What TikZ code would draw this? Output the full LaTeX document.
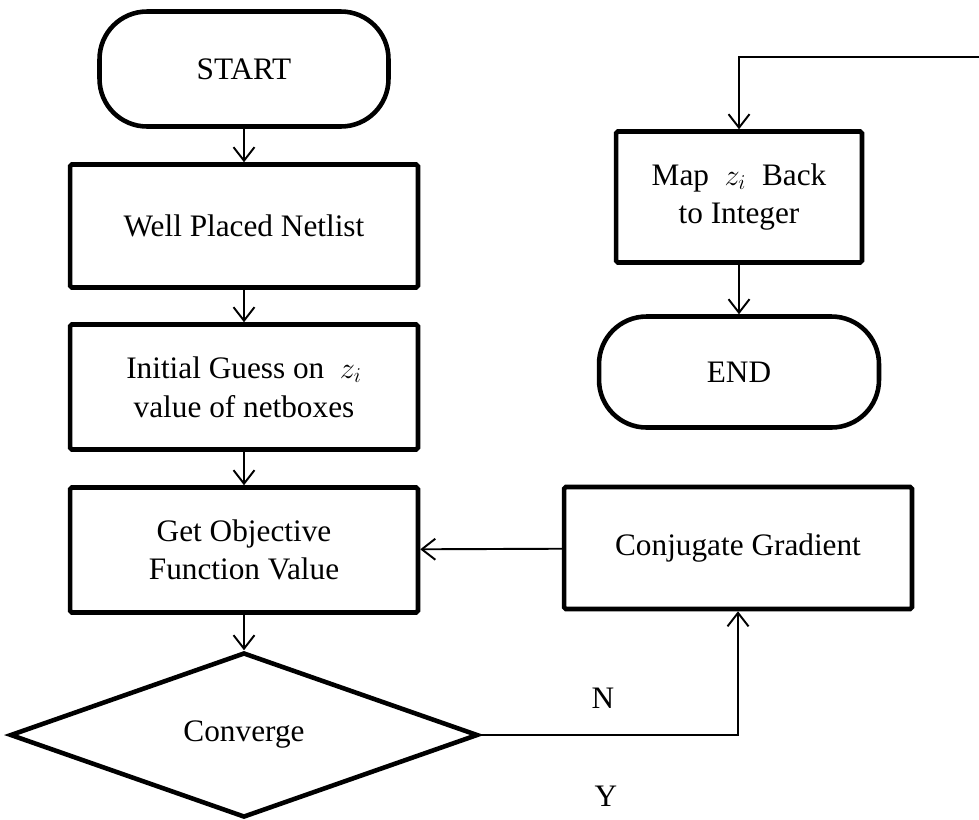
\documentclass[tikz,border=0pt]{standalone}
\usepackage{fontspec}
\setmainfont{Liberation Serif}
\usetikzlibrary{shapes.geometric,arrows.meta}

\begin{document}
\begin{tikzpicture}[x=0.02cm, y=-0.02cm,
    font=\fontsize{17.8}{22}\selectfont,
    box/.style={draw, line width=2.6pt, rounded corners=1pt, align=center, inner sep=0pt},
    term/.style={draw, line width=2.6pt, rounded corners=0.95cm, align=center, inner sep=0pt},
    decision/.style={draw, diamond, line width=2.6pt, aspect=2.8, inner sep=0pt},
    arr/.style={-{Straight Barb[length=0.27cm, width=0.42cm]}, line width=1.1pt}]
		\useasboundingbox (0,0) rectangle (979,819);

		\node[term, minimum width=5.78cm, minimum height=2.3cm] (start) at (244,69) {START};
		\node[box, minimum width=6.96cm, minimum height=2.46cm] (netlist) at (244,226) {Well Placed Netlist};
		\node[box, minimum width=6.96cm, minimum height=2.5cm] (guess) at (244,387) {Initial Guess on~ $z_i$\\value of netboxes};
		\node[box, minimum width=6.96cm, minimum height=2.5cm] (objective) at (244,550) {Get Objective\\Function Value};
		\node[decision, minimum width=9.36cm, minimum height=3.3cm] (converge) at (244,735) {Converge};
		\node[box, minimum width=6.96cm, minimum height=2.44cm] (grad) at (738,548) {Conjugate Gradient};
		\node[box, minimum width=4.92cm, minimum height=2.62cm] (map) at (739,197) {Map~ $z_i$~ Back\\to Integer};
		\node[term, minimum width=5.6cm, minimum height=2.22cm] (end) at (739,372) {END};

		\node (n) at (603,698) {N};
		\node (y) at (606,796) {Y};
		\coordinate (back) at (979,57);

		\draw[arr] (start) -- (netlist);
		\draw[arr] (netlist) -- (guess);
		\draw[arr] (guess) -- (objective);
		\draw[arr] (objective) -- (converge);
		\draw[arr] (grad) -- (objective);
		\draw[arr] (converge.east) -| (grad.south);
		\draw[arr] (back) -| (map.north);
		\draw[arr] (map) -- (end);
	\end{tikzpicture}
\end{document}
